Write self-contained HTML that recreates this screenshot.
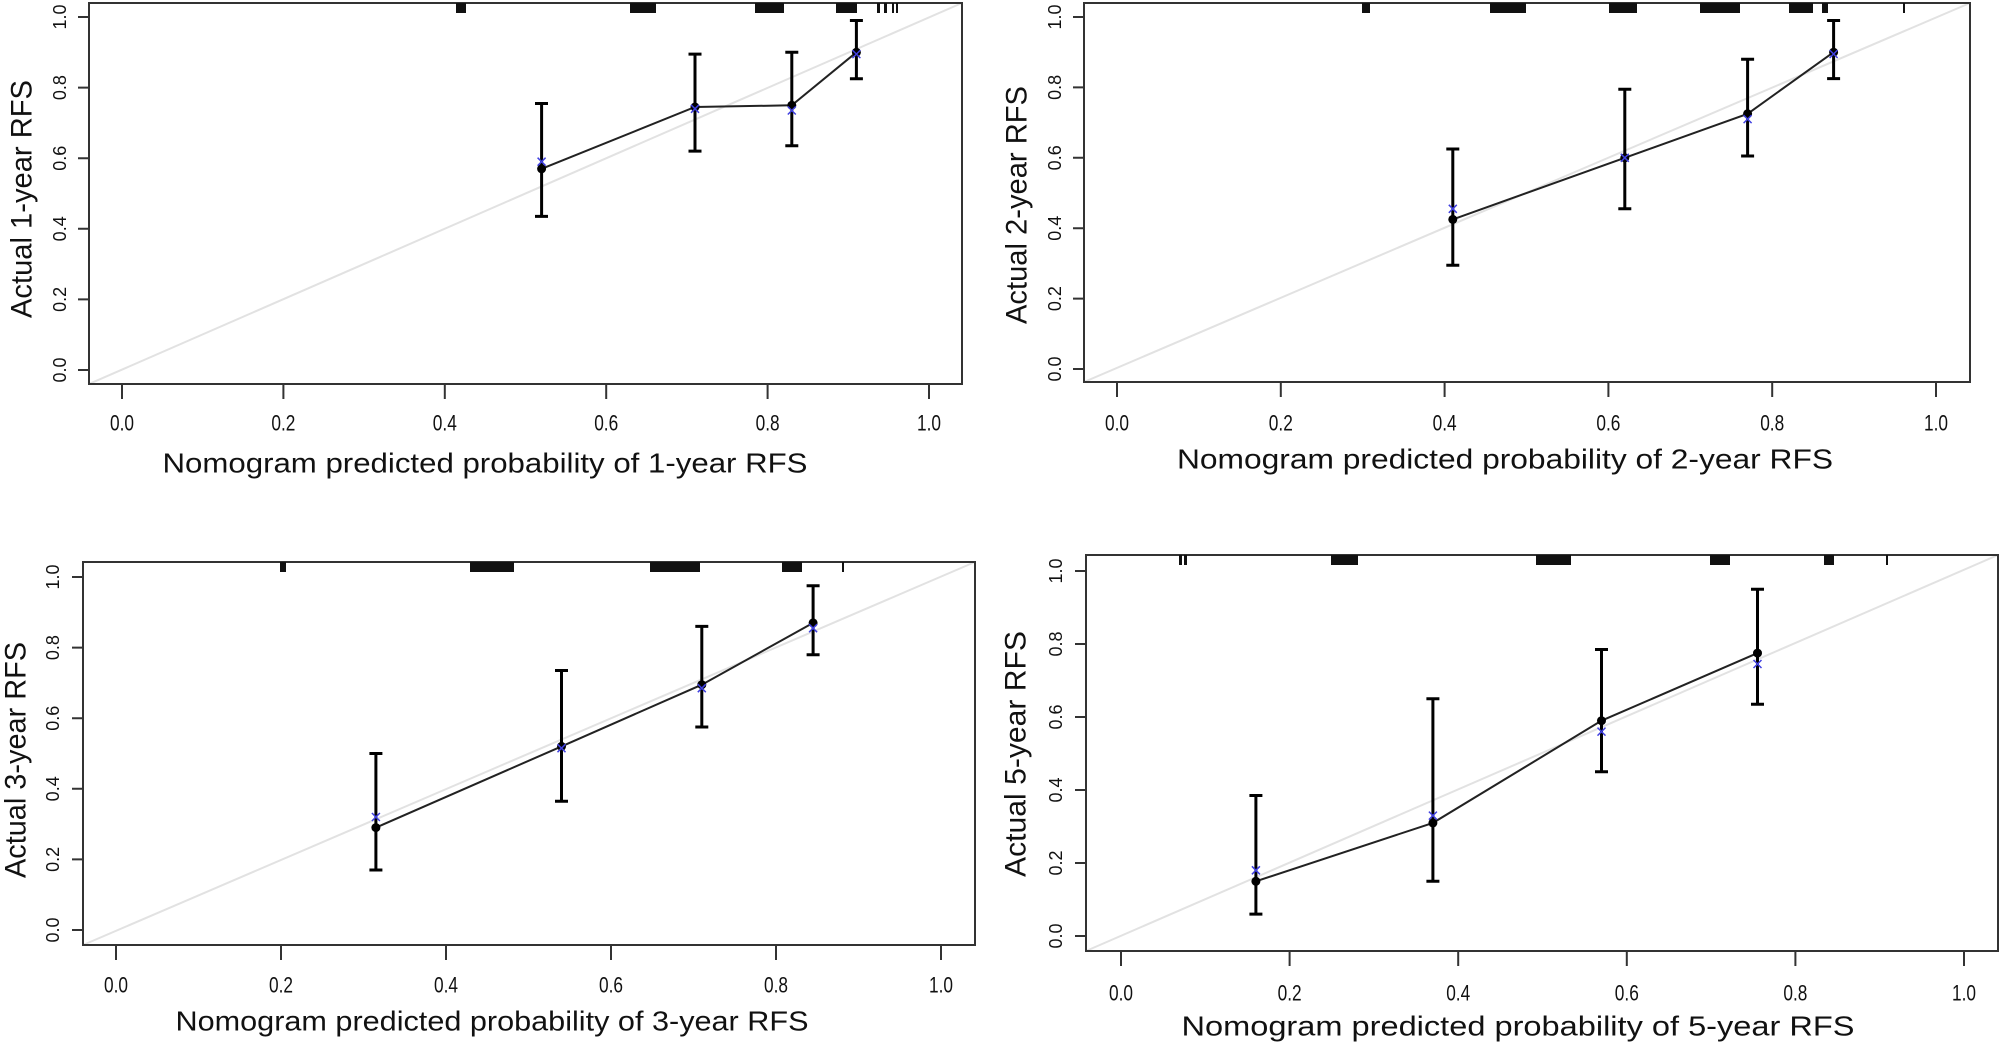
<!DOCTYPE html>
<html><head><meta charset="utf-8"><style>
html,body{margin:0;padding:0;background:#fff}
svg{display:block}
text{font-family:"Liberation Sans",sans-serif;fill:#111}
.yt{font-size:18px}
.xt{font-size:22px}
.xl{font-size:28px}
.yl{font-size:30px}
</style></head><body>
<svg width="2002" height="1048" viewBox="0 0 2002 1048" xmlns="http://www.w3.org/2000/svg">
<g fill="none" stroke-linecap="butt">
<!-- Panel 1 -->
<line x1="89" y1="384" x2="962" y2="3" stroke="#e2e2e2" stroke-width="2"/>
<rect x="89" y="3" width="873" height="381" stroke="#333" stroke-width="2"/>
<g stroke="#333" stroke-width="2">
<path d="M78 370H89M78 299.4H89M78 228.8H89M78 158.2H89M78 87.6H89M78 17H89"/>
<path d="M122 384V399M283.4 384V399M444.8 384V399M606.2 384V399M767.6 384V399M929 384V399"/>
</g>
<g fill="#111"><rect x="456" y="3" width="10" height="10"/><rect x="630" y="3" width="26" height="10"/><rect x="755" y="3" width="29" height="10"/><rect x="836" y="3" width="21" height="10"/><rect x="877" y="3" width="3" height="10"/><rect x="884" y="3" width="3" height="10"/><rect x="892" y="3" width="2" height="10"/><rect x="896" y="3" width="2" height="10"/></g>
<polyline points="541.6,168.8 695,107 791.8,105.3 856.4,52.3" stroke="#222" stroke-width="2"/>
<g stroke="#000" stroke-width="3">
<path d="M541.6 216.4V103.5M535 216.4H548M535 103.5H548"/>
<path d="M695 151.1V54.1M688.5 151.1H701.5M688.5 54.1H701.5"/>
<path d="M791.8 145.8V52.3M785.3 145.8H798.3M785.3 52.3H798.3"/>
<path d="M856.4 78.8V20.5M849.9 78.8H862.9M849.9 20.5H862.9"/>
</g>
<g fill="#000"><circle cx="541.6" cy="168.8" r="4.5"/><circle cx="695" cy="107" r="4.5"/><circle cx="791.8" cy="105.3" r="4.5"/><circle cx="856.4" cy="52.3" r="4.5"/></g>
<g stroke="#4040e0" stroke-width="1.5"><path d="M537.6 157.7l8 8M545.6 157.7l-8 8M691 104.8l8 8M699 104.8l-8 8M787.8 106.5l8 8M795.8 106.5l-8 8M852.4 50.1l8 8M860.4 50.1l-8 8"/></g>

<!-- Panel 2 -->
<line x1="1084" y1="382" x2="1970" y2="3" stroke="#e2e2e2" stroke-width="2"/>
<rect x="1084" y="3" width="886" height="379" stroke="#333" stroke-width="2"/>
<g stroke="#333" stroke-width="2">
<path d="M1073 369H1084M1073 298.6H1084M1073 228.2H1084M1073 157.8H1084M1073 87.4H1084M1073 17H1084"/>
<path d="M1117 382V397M1280.8 382V397M1444.6 382V397M1608.4 382V397M1772.2 382V397M1936 382V397"/>
</g>
<g fill="#111"><rect x="1362" y="3" width="8" height="10"/><rect x="1490" y="3" width="36" height="10"/><rect x="1609" y="3" width="28" height="10"/><rect x="1700" y="3" width="40" height="10"/><rect x="1789" y="3" width="24" height="10"/><rect x="1822" y="3" width="6" height="10"/><rect x="1903" y="3" width="2" height="10"/></g>
<polyline points="1452.8,219.4 1624.8,157.8 1747.6,113.8 1833.6,52.2" stroke="#222" stroke-width="2"/>
<g stroke="#000" stroke-width="3">
<path d="M1452.8 265.2V149M1446.3 265.2H1459.3M1446.3 149H1459.3"/>
<path d="M1624.8 208.8V89.2M1618.3 208.8H1631.3M1618.3 89.2H1631.3"/>
<path d="M1747.6 156V59.2M1741.1 156H1754.1M1741.1 59.2H1754.1"/>
<path d="M1833.6 78.6V20.5M1827.1 78.6H1840.1M1827.1 20.5H1840.1"/>
</g>
<g fill="#000"><circle cx="1452.8" cy="219.4" r="4.5"/><circle cx="1624.8" cy="157.8" r="4.5"/><circle cx="1747.6" cy="113.8" r="4.5"/><circle cx="1833.6" cy="52.2" r="4.5"/></g>
<g stroke="#4040e0" stroke-width="1.5"><path d="M1448.8 204.8l8 8M1456.8 204.8l-8 8M1620.8 153.8l8 8M1628.8 153.8l-8 8M1743.6 115.1l8 8M1751.6 115.1l-8 8M1829.6 50l8 8M1837.6 50l-8 8"/></g>

<!-- Panel 3 -->
<line x1="83" y1="945" x2="975" y2="562" stroke="#e2e2e2" stroke-width="2"/>
<rect x="83" y="562" width="892" height="383" stroke="#333" stroke-width="2"/>
<g stroke="#333" stroke-width="2">
<path d="M72 930H83M72 859.4H83M72 788.8H83M72 718.2H83M72 647.6H83M72 577H83"/>
<path d="M116 945V960M281 945V960M446 945V960M611 945V960M776 945V960M941 945V960"/>
</g>
<g fill="#111"><rect x="280" y="562" width="6" height="10"/><rect x="470" y="562" width="44" height="10"/><rect x="650" y="562" width="50" height="10"/><rect x="782" y="562" width="20" height="10"/><rect x="842" y="562" width="2" height="10"/></g>
<polyline points="375.9,827.6 561.5,746.4 701.8,684.7 813.1,622.9" stroke="#222" stroke-width="2"/>
<g stroke="#000" stroke-width="3">
<path d="M375.9 870V753.5M369.4 870H382.4M369.4 753.5H382.4"/>
<path d="M561.5 801.2V670.5M555 801.2H568M555 670.5H568"/>
<path d="M701.8 727V626.4M695.3 727H708.3M695.3 626.4H708.3"/>
<path d="M813.1 654.7V585.8M806.6 654.7H819.6M806.6 585.8H819.6"/>
</g>
<g fill="#000"><circle cx="375.9" cy="827.6" r="4.5"/><circle cx="561.5" cy="746.4" r="4.5"/><circle cx="701.8" cy="684.7" r="4.5"/><circle cx="813.1" cy="622.9" r="4.5"/></g>
<g stroke="#4040e0" stroke-width="1.5"><path d="M371.9 813l8 8M379.9 813l-8 8M557.5 744.2l8 8M565.5 744.2l-8 8M697.8 684.2l8 8M705.8 684.2l-8 8M809.1 624.2l8 8M817.1 624.2l-8 8"/></g>

<!-- Panel 4 -->
<line x1="1086" y1="951" x2="1998" y2="555" stroke="#e2e2e2" stroke-width="2"/>
<rect x="1086" y="555" width="912" height="396" stroke="#333" stroke-width="2"/>
<g stroke="#333" stroke-width="2">
<path d="M1075 936H1086M1075 863H1086M1075 790H1086M1075 717H1086M1075 644H1086M1075 571H1086"/>
<path d="M1121 951V966M1289.6 951V966M1458.2 951V966M1626.8 951V966M1795.4 951V966M1964 951V966"/>
</g>
<g fill="#111"><rect x="1179" y="555" width="3" height="10"/><rect x="1184" y="555" width="3" height="10"/><rect x="1331" y="555" width="27" height="10"/><rect x="1536" y="555" width="35" height="10"/><rect x="1710" y="555" width="20" height="10"/><rect x="1824" y="555" width="10" height="10"/><rect x="1886" y="555" width="2" height="10"/></g>
<polyline points="1255.9,881.3 1432.9,822.9 1601.5,720.7 1757.5,653.1" stroke="#222" stroke-width="2"/>
<g stroke="#000" stroke-width="3">
<path d="M1255.9 914.1V795.5M1249.4 914.1H1262.4M1249.4 795.5H1262.4"/>
<path d="M1432.9 881.3V698.8M1426.4 881.3H1439.4M1426.4 698.8H1439.4"/>
<path d="M1601.5 771.8V649.5M1595 771.8H1608M1595 649.5H1608"/>
<path d="M1757.5 704.2V589.3M1751 704.2H1764M1751 589.3H1764"/>
</g>
<g fill="#000"><circle cx="1255.9" cy="881.3" r="4.5"/><circle cx="1432.9" cy="822.9" r="4.5"/><circle cx="1601.5" cy="720.7" r="4.5"/><circle cx="1757.5" cy="653.1" r="4.5"/></g>
<g stroke="#4040e0" stroke-width="1.5"><path d="M1251.9 866.3l8 8M1259.9 866.3l-8 8M1428.9 811.6l8 8M1436.9 811.6l-8 8M1597.5 727.6l8 8M1605.5 727.6l-8 8M1753.5 660l8 8M1761.5 660l-8 8"/></g>
</g>

<!-- Y tick labels -->
<g class="yt" text-anchor="middle" dominant-baseline="central">
<text transform="translate(60,370) rotate(-90)">0.0</text><text transform="translate(60,299.4) rotate(-90)">0.2</text><text transform="translate(60,228.8) rotate(-90)">0.4</text><text transform="translate(60,158.2) rotate(-90)">0.6</text><text transform="translate(60,87.6) rotate(-90)">0.8</text><text transform="translate(60,17) rotate(-90)">1.0</text>
<text transform="translate(1055,369) rotate(-90)">0.0</text><text transform="translate(1055,298.6) rotate(-90)">0.2</text><text transform="translate(1055,228.2) rotate(-90)">0.4</text><text transform="translate(1055,157.8) rotate(-90)">0.6</text><text transform="translate(1055,87.4) rotate(-90)">0.8</text><text transform="translate(1055,17) rotate(-90)">1.0</text>
<text transform="translate(53,930) rotate(-90)">0.0</text><text transform="translate(53,859.4) rotate(-90)">0.2</text><text transform="translate(53,788.8) rotate(-90)">0.4</text><text transform="translate(53,718.2) rotate(-90)">0.6</text><text transform="translate(53,647.6) rotate(-90)">0.8</text><text transform="translate(53,577) rotate(-90)">1.0</text>
<text transform="translate(1056,936) rotate(-90)">0.0</text><text transform="translate(1056,863) rotate(-90)">0.2</text><text transform="translate(1056,790) rotate(-90)">0.4</text><text transform="translate(1056,717) rotate(-90)">0.6</text><text transform="translate(1056,644) rotate(-90)">0.8</text><text transform="translate(1056,571) rotate(-90)">1.0</text>
</g>

<!-- X tick labels -->
<g class="xt" text-anchor="middle" dominant-baseline="central">
<text x="122" y="423" textLength="24" lengthAdjust="spacingAndGlyphs">0.0</text><text x="283.4" y="423" textLength="24" lengthAdjust="spacingAndGlyphs">0.2</text><text x="444.8" y="423" textLength="24" lengthAdjust="spacingAndGlyphs">0.4</text><text x="606.2" y="423" textLength="24" lengthAdjust="spacingAndGlyphs">0.6</text><text x="767.6" y="423" textLength="24" lengthAdjust="spacingAndGlyphs">0.8</text><text x="929" y="423" textLength="24" lengthAdjust="spacingAndGlyphs">1.0</text>
<text x="1117" y="423" textLength="24" lengthAdjust="spacingAndGlyphs">0.0</text><text x="1280.8" y="423" textLength="24" lengthAdjust="spacingAndGlyphs">0.2</text><text x="1444.6" y="423" textLength="24" lengthAdjust="spacingAndGlyphs">0.4</text><text x="1608.4" y="423" textLength="24" lengthAdjust="spacingAndGlyphs">0.6</text><text x="1772.2" y="423" textLength="24" lengthAdjust="spacingAndGlyphs">0.8</text><text x="1936" y="423" textLength="24" lengthAdjust="spacingAndGlyphs">1.0</text>
<text x="116" y="985" textLength="24" lengthAdjust="spacingAndGlyphs">0.0</text><text x="281" y="985" textLength="24" lengthAdjust="spacingAndGlyphs">0.2</text><text x="446" y="985" textLength="24" lengthAdjust="spacingAndGlyphs">0.4</text><text x="611" y="985" textLength="24" lengthAdjust="spacingAndGlyphs">0.6</text><text x="776" y="985" textLength="24" lengthAdjust="spacingAndGlyphs">0.8</text><text x="941" y="985" textLength="24" lengthAdjust="spacingAndGlyphs">1.0</text>
<text x="1121" y="993" textLength="24" lengthAdjust="spacingAndGlyphs">0.0</text><text x="1289.6" y="993" textLength="24" lengthAdjust="spacingAndGlyphs">0.2</text><text x="1458.2" y="993" textLength="24" lengthAdjust="spacingAndGlyphs">0.4</text><text x="1626.8" y="993" textLength="24" lengthAdjust="spacingAndGlyphs">0.6</text><text x="1795.4" y="993" textLength="24" lengthAdjust="spacingAndGlyphs">0.8</text><text x="1964" y="993" textLength="24" lengthAdjust="spacingAndGlyphs">1.0</text>
</g>

<!-- X axis labels -->
<g class="xl" text-anchor="middle" dominant-baseline="central">
<text x="485" y="463" textLength="645" lengthAdjust="spacingAndGlyphs">Nomogram predicted probability of 1-year RFS</text>
<text x="1505" y="459" textLength="656" lengthAdjust="spacingAndGlyphs">Nomogram predicted probability of 2-year RFS</text>
<text x="492" y="1021" textLength="633" lengthAdjust="spacingAndGlyphs">Nomogram predicted probability of 3-year RFS</text>
<text x="1518" y="1026" textLength="673" lengthAdjust="spacingAndGlyphs">Nomogram predicted probability of 5-year RFS</text>
</g>

<!-- Y axis labels -->
<g class="yl" text-anchor="middle" dominant-baseline="central">
<text transform="translate(22,199) rotate(-90)" textLength="238" lengthAdjust="spacingAndGlyphs">Actual 1-year RFS</text>
<text transform="translate(1017,205) rotate(-90)" textLength="238" lengthAdjust="spacingAndGlyphs">Actual 2-year RFS</text>
<text transform="translate(16,760) rotate(-90)" textLength="236" lengthAdjust="spacingAndGlyphs">Actual 3-year RFS</text>
<text transform="translate(1016,754) rotate(-90)" textLength="246" lengthAdjust="spacingAndGlyphs">Actual 5-year RFS</text>
</g>
</svg>
</body></html>
